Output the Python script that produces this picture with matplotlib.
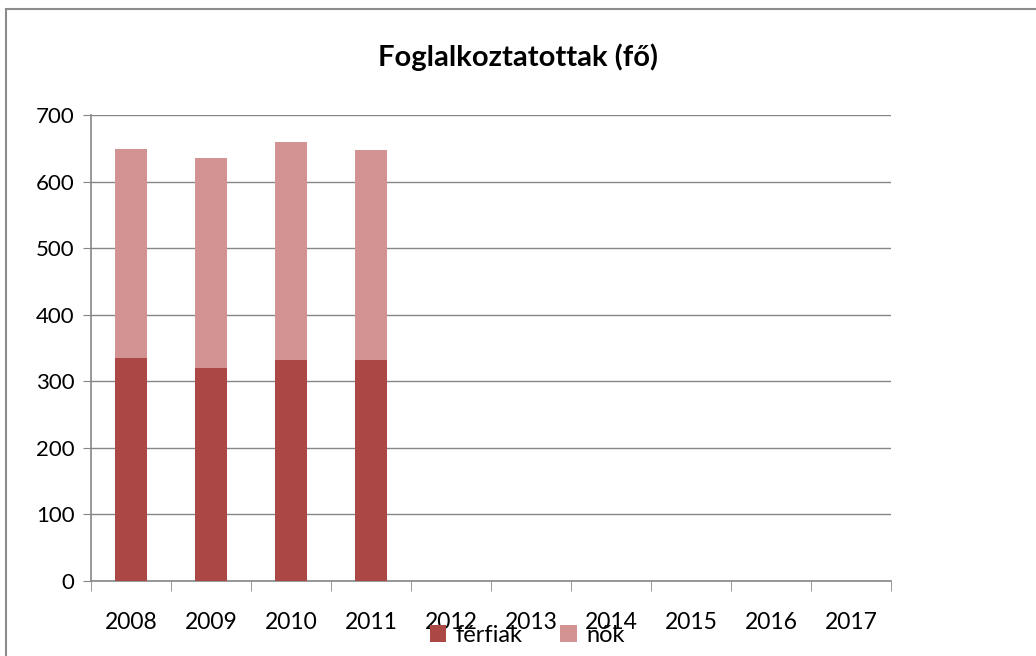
import matplotlib.pyplot as plt
import numpy as np
from matplotlib.patches import Rectangle

years = ['2008', '2009', '2010', '2011', '2012', '2013', '2014', '2015', '2016', '2017']
ferfiak = [335, 320, 332, 332, 0, 0, 0, 0, 0, 0]
nok = [314, 315, 327, 315, 0, 0, 0, 0, 0, 0]

DARK = '#ab4745'
LIGHT = '#d39392'
GRID = '#868686'

plt.rcParams['font.family'] = ['Lato', 'DejaVu Sans']

fig = plt.figure(figsize=(10.36, 6.56), dpi=100)
ax = fig.add_axes([91 / 1036, 75 / 656, 800 / 1036, 466 / 656])

# keret a diagram körül
fig.patches.append(Rectangle((6 / 1036, -0.05), 1.2, 1 - 9 / 656 + 0.05,
                             transform=fig.transFigure, fill=False,
                             edgecolor='#8c8c8c', linewidth=1.5))

x = np.arange(len(years))
ax.bar(x, ferfiak, width=0.41, color=DARK, label='férfiak', zorder=3)
ax.bar(x, nok, width=0.41, bottom=ferfiak, color=LIGHT, label='nők', zorder=3)

ax.set_xlim(-0.5, len(years) - 0.5)
ax.set_ylim(0, 700)
ax.set_yticks(range(0, 701, 100))
ax.yaxis.grid(True, color=GRID, linewidth=1, zorder=0)

ax.set_xticks(x)
ax.set_xticklabels(years)
ax.set_xticks(np.arange(-0.5, len(years), 1), minor=True)
ax.tick_params(axis='x', which='major', length=0, pad=22, labelsize=16.5)
ax.tick_params(axis='x', which='minor', length=7, color=GRID)
ax.tick_params(axis='y', length=6, color=GRID, labelsize=16, pad=6)

for side in ['top', 'right']:
    ax.spines[side].set_visible(False)
for side in ['left', 'bottom']:
    ax.spines[side].set_color(GRID)
    ax.spines[side].set_linewidth(1.2)

fig.text(0.5, 1 - 57 / 656, 'Foglalkoztatottak (fő)', ha='center', va='center',
         fontsize=21, fontweight='bold')

fig.legend(loc='center', bbox_to_anchor=(0.509, 1 - 635 / 656), ncol=2, frameon=False,
           fontsize=17, handlelength=0.7, handleheight=0.7, columnspacing=1.6,
           handletextpad=0.4)

fig.savefig('out.png', dpi=100)
